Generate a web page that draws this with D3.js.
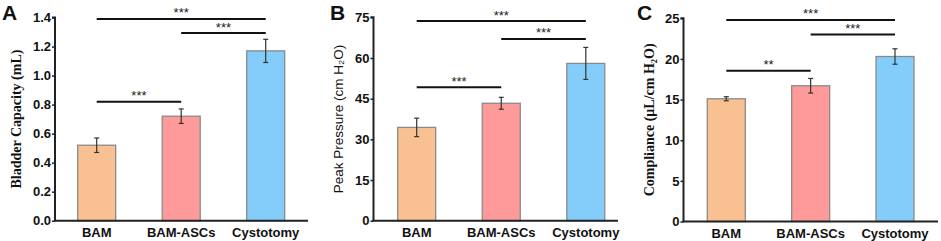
<!DOCTYPE html>
<html><head><meta charset="utf-8">
<script src="https://cdn.jsdelivr.net/npm/d3@7"></script>
<style>body{margin:0;background:#fff}svg{display:block}</style>
</head><body><svg id="c" width="941" height="241"></svg>
<script>
const categories = ["BAM", "BAM-ASCs", "Cystotomy"];
const colors = ["#F9C192", "#FF9A9A", "#84CDFA"];
const capacityMean = [0.52, 0.72, 1.17];
const capacityErr = [0.05, 0.05, 0.08];
const pressureMean = [34.4, 43.3, 58.0];
const pressureErr = [3.4, 2.2, 5.9];
const complianceMean = [15.1, 16.7, 20.3];
const complianceErr = [0.25, 0.9, 0.95];
const capacityTicks = [0, 0.2, 0.4, 0.6, 0.8, 1.0, 1.2, 1.4];
const pressureTicks = [0, 15, 30, 45, 60, 75];
const complianceTicks = [0, 5, 10, 15, 20, 25];
// significance brackets: [from index, to index, level, label]
const capacitySig = [[0, 2, 1.39, "***"], [1, 2, 1.293, "***"], [0, 1, 0.82, "***"]];
const pressureSig = [[0, 2, 73.6, "***"], [1, 2, 67.0, "***"], [0, 1, 49.2, "***"]];
const complianceSig = [[0, 2, 24.8, "***"], [1, 2, 23.0, "***"], [0, 1, 18.55, "**"]];

const svg = d3.select("#c");
const panels = [
  {letter:"A", lx:2, axisX:55, xEnd:308, y0:220.7, y1:17.5, max:1.4, ticks:capacityTicks, fmt:d3.format(".1f"),
   mean:capacityMean, err:capacityErr, sig:capacitySig, label:"Bladder Capacity (mL)", serif:true, labX:21, bar0:96.7, bar2:265.7},
  {letter:"B", lx:330, axisX:373.5, xEnd:618, y0:220.7, y1:17.3, max:75, ticks:pressureTicks, fmt:d3.format("d"),
   mean:pressureMean, err:pressureErr, sig:pressureSig, label:"Peak Pressure (cm H₂O)", serif:false, labX:343, bar0:416.7, bar2:585.8},
  {letter:"C", lx:637, axisX:683.5, xEnd:938, y0:221.5, y1:18.3, max:25, ticks:complianceTicks, fmt:d3.format("d"),
   mean:complianceMean, err:complianceErr, sig:complianceSig, label:"Compliance (μL/cm H₂O)", serif:true, labX:654, bar0:726.3, bar2:895}
];

panels.forEach(p => {
  const g = svg.append("g");
  const y = d3.scaleLinear().domain([0, p.max]).range([p.y0, p.y1]);
  const x = d3.scalePoint().domain(categories).range([p.bar0, p.bar2]);
  const bw = 38;

  // bars
  categories.forEach((c, i) => {
    g.append("rect").attr("x", x(c) - bw/2).attr("y", y(p.mean[i]))
      .attr("width", bw).attr("height", y(0) - y(p.mean[i]))
      .attr("fill", colors[i]).attr("stroke", "#8a8a8a").attr("stroke-width", 1.3);
    const t = y(p.mean[i] + p.err[i]), b = y(p.mean[i] - p.err[i]);
    g.append("line").attr("x1", x(c)).attr("x2", x(c)).attr("y1", t).attr("y2", b)
      .attr("stroke", "#333").attr("stroke-width", 1.2);
    [t, b].forEach(v => g.append("line").attr("x1", x(c) - 2.5).attr("x2", x(c) + 2.5)
      .attr("y1", v).attr("y2", v).attr("stroke", "#333").attr("stroke-width", 1.2));
  });

  // y axis
  const ya = d3.axisLeft(y).tickValues(p.ticks).tickFormat(p.fmt).tickSize(3).tickPadding(1);
  const ag = g.append("g").attr("transform", `translate(${p.axisX},0)`).call(ya);
  ag.select(".domain").attr("stroke", "#222").attr("stroke-width", 2).attr("d", `M-3,${p.y1}H0V${p.y0}`);
  ag.selectAll(".tick line").attr("stroke", "#222").attr("stroke-width", 1.5);
  ag.selectAll(".tick text").attr("font-family", "Arial, 'Liberation Sans', sans-serif")
    .attr("font-weight", "bold").attr("font-size", 13).attr("fill", "#111");

  // x axis
  g.append("line").attr("x1", p.axisX - 1).attr("x2", p.xEnd).attr("y1", p.y0).attr("y2", p.y0)
    .attr("stroke", "#222").attr("stroke-width", 2);
  categories.forEach(c => g.append("text").attr("x", x(c)).attr("y", p.y0 + 16)
    .attr("text-anchor", "middle").attr("font-family", "Arial, 'Liberation Sans', sans-serif")
    .attr("font-weight", "bold").attr("font-size", 13).attr("fill", "#111").text(c));

  // sig brackets
  p.sig.forEach(s => {
    const x1 = x(categories[s[0]]), x2 = x(categories[s[1]]);
    const yy = y(s[2]);
    g.append("line").attr("x1", x1).attr("x2", x2).attr("y1", yy).attr("y2", yy)
      .attr("stroke", "#111").attr("stroke-width", 2);
    g.append("text").attr("x", (x1 + x2) / 2).attr("y", yy - 1.5).attr("text-anchor", "middle")
      .attr("font-family", "Arial, 'Liberation Sans', sans-serif").attr("font-size", 13).attr("fill", "#222").text(s[3]);
  });

  // y label
  g.append("text").attr("transform", `translate(${p.labX},${(p.y0 + p.y1)/2}) rotate(-90)`)
    .attr("text-anchor", "middle")
    .attr("font-family", p.serif ? "'Times New Roman', 'Liberation Serif', serif" : "Arial, 'Liberation Sans', sans-serif")
    .attr("font-weight", p.serif ? "bold" : "normal")
    .attr("font-size", p.serif ? 14 : 13.5).attr("fill", "#111").text(p.label);

  // panel letter
  g.append("text").attr("x", p.lx).attr("y", 20).attr("font-family", "Arial, 'Liberation Sans', sans-serif")
    .attr("font-weight", "bold").attr("font-size", 21).attr("fill", "#111").text(p.letter);
});
</script></body></html>
